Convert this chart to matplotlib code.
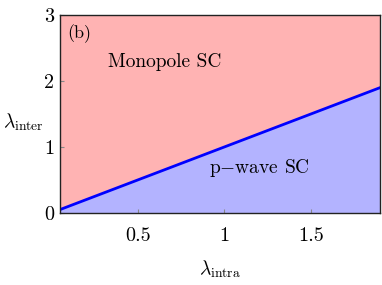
import numpy as np
import matplotlib
matplotlib.use('Agg')
import matplotlib.pyplot as plt

# phase boundary lambda_inter = lambda_intra
lam_intra = np.array([0.05, 1.9])
lam_inter = np.array([0.05, 1.9])
xlims = [0.05, 1.9]
ylims = [0, 3]
xticks = [0.5, 1, 1.5]
xticklabels = ['0.5', '1', '1.5']
yticks = [0, 1, 2, 3]
yticklabels = ['0', '1', '2', '3']

plt.rcParams['mathtext.fontset'] = 'cm'
plt.rcParams['font.family'] = ['cmr10', 'DejaVu Serif']
plt.rcParams['axes.formatter.use_mathtext'] = True

fig = plt.figure(figsize=(3.82, 2.85), dpi=100)
ax = fig.add_axes([0.157, 0.253, 0.838, 0.694])

ax.fill_between(lam_intra, lam_inter, ylims[1], color='#ffb3b3', lw=0)
ax.fill_between(lam_intra, ylims[0], lam_inter, color='#b3b3ff', lw=0)
ax.plot(lam_intra, lam_inter, color='#0000ff', lw=2)

ax.set_xlim(xlims)
ax.set_ylim(ylims)
ax.set_xticks(xticks)
ax.set_xticklabels(xticklabels, fontsize=14.5)
ax.set_yticks(yticks)
ax.set_yticklabels(yticklabels, fontsize=14.5)
ax.tick_params(direction='in', length=3, color='#888888', width=0.8, pad=10)
ax.tick_params(axis='y', pad=4)
for s in ax.spines.values():
	s.set_linewidth(1.0)
	s.set_color('#222222')

ax.set_xlabel(r'$\lambda_{\rm intra}$', fontsize=14, labelpad=10)
ax.set_ylabel(r'$\lambda_{\rm inter}$', fontsize=14, rotation=0, labelpad=2, va='center')
ax.yaxis.set_label_coords(-0.115, 0.46)

ax.text(0.09, 2.72, '(b)', fontsize=13, va='center')
ax.text(0.33, 2.22, 'Monopole SC', fontsize=14)
ax.text(0.91, 0.6, r'p$-$wave SC', fontsize=14)

fig.savefig('out.png', dpi=100)
